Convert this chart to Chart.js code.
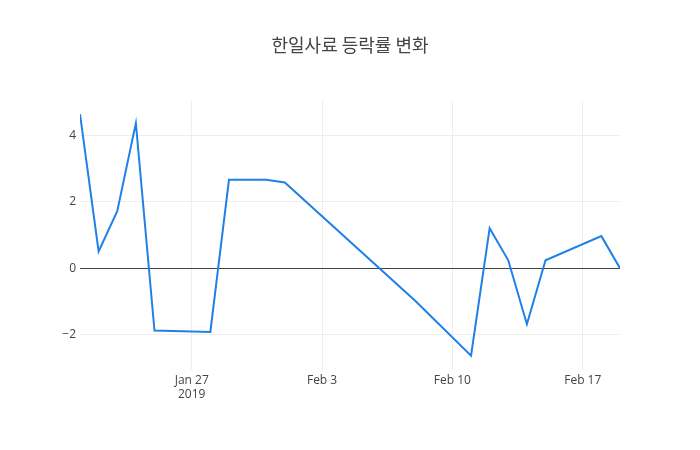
<!DOCTYPE html>
<html>
<head>
<meta charset="utf-8">
<script src="https://cdn.jsdelivr.net/npm/chart.js@4.4.0/dist/chart.umd.min.js"></script>
<style>
  body { margin: 0; background: #fff; }
</style>
</head>
<body>
<canvas id="ratechart" width="700" height="450"></canvas>
<script>
// days counted from Jan 21 2019
const days = [0, 1, 2, 3, 4, 7, 8, 9, 10, 11, 18, 21, 22, 23, 24, 25, 28, 29];
const dates = ['Jan 21', 'Jan 22', 'Jan 23', 'Jan 24', 'Jan 25', 'Jan 28', 'Jan 29', 'Jan 30', 'Jan 31', 'Feb 1',
               'Feb 8', 'Feb 11', 'Feb 12', 'Feb 13', 'Feb 14', 'Feb 15', 'Feb 18', 'Feb 19'];
const changes = [4.65, 0.51, 1.72, 4.38, -1.88, -1.92, 2.67, 2.67, 2.67, 2.59,
                 -0.98, -2.64, 1.21, 0.24, -1.69, 0.24, 0.97, 0];
const tickDays = [6, 13, 20, 27];
const tickLabels = [['Jan 27', '2019'], 'Feb 3', 'Feb 10', 'Feb 17'];

const points = days.map((d, i) => ({ x: d, y: changes[i] }));

const ctx = document.getElementById('ratechart').getContext('2d');
const myChart = new Chart(ctx, {
    type: 'line',
    data: {
        datasets: [{
            label: '등락률',
            data: points,
            borderColor: '#1f80e8',
            borderWidth: 2,
            pointRadius: 0,
            tension: 0,
            fill: false
        }]
    },
    options: {
        responsive: false,
        animation: false,
        layout: { padding: 0 },
        plugins: {
            legend: { display: false },
            tooltip: { enabled: false },
            title: {
                display: true,
                text: '한일사료 등락률 변화',
                color: '#444',
                font: { family: '"Noto Sans CJK KR", "Open Sans", sans-serif', size: 18, weight: 'normal' },
                padding: { top: 34, bottom: 45 }
            }
        },
        scales: {
            x: {
                type: 'linear',
                min: 0,
                max: 29,
                afterBuildTicks: (scale) => { scale.ticks = tickDays.map(v => ({ value: v })); },
                afterFit: (scale) => { scale.height = 80; },
                ticks: {
                    color: '#444',
                    font: { family: '"Open Sans", sans-serif', size: 12 },
                    padding: 3,
                    maxRotation: 0,
                    callback: (v) => tickLabels[tickDays.indexOf(v)]
                },
                grid: { color: '#eee', drawTicks: false },
                border: { display: false }
            },
            y: {
                min: -3.07,
                max: 5.06,
                afterFit: (scale) => { scale.width = 80; },
                ticks: {
                    stepSize: 2,
                    includeBounds: false,
                    color: '#444',
                    font: { family: '"Open Sans", sans-serif', size: 12 },
                    padding: 4,
                    callback: (v) => v < 0 ? '\u2212' + Math.abs(v) : String(v)
                },
                grid: {
                    drawTicks: false,
                    color: (c) => c.tick && c.tick.value === 0 ? '#444' : '#eee'
                },
                border: { display: false }
            },
            // empty right margin so the title stays centred on the page
            yRight: {
                position: 'right',
                min: -3.07,
                max: 5.06,
                afterFit: (scale) => { scale.width = 80; },
                ticks: { display: false },
                grid: { display: false },
                border: { display: false }
            }
        }
    }
});
</script>
</body>
</html>
